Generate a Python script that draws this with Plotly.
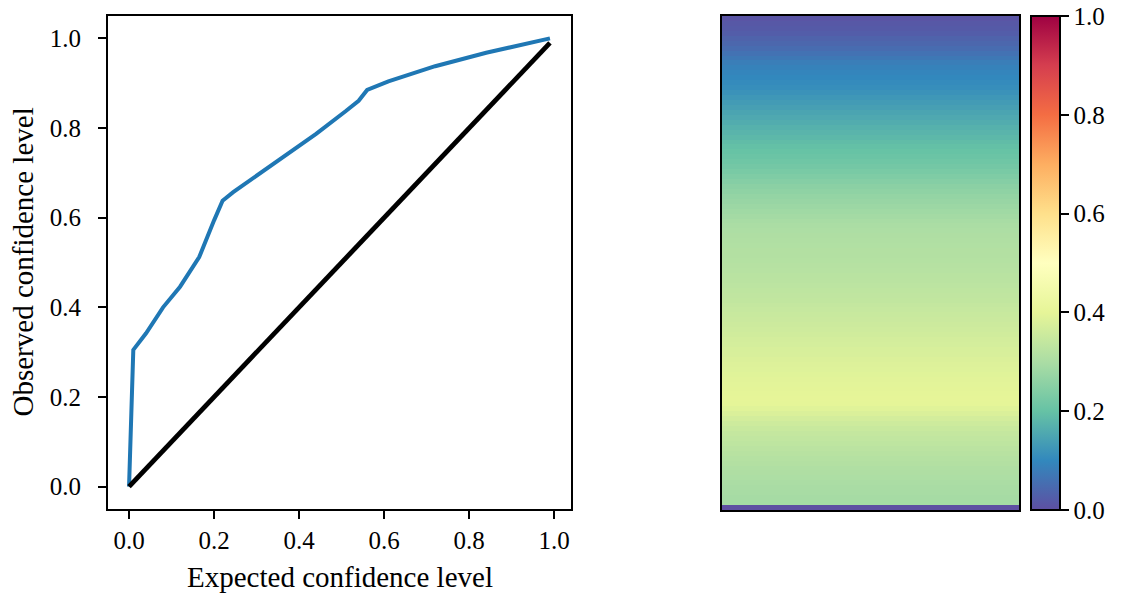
import plotly.graph_objects as go

# ---- data: calibration curve ----
expected_conf = [0.0, 0.01, 0.04, 0.08, 0.12, 0.15, 0.165, 0.20, 0.21, 0.22, 0.245,
                 0.29, 0.37, 0.44, 0.51, 0.54, 0.56, 0.61, 0.72, 0.84, 0.99]
observed_conf = [0.0, 0.305, 0.342, 0.40, 0.446, 0.49, 0.512, 0.594, 0.616, 0.638, 0.657,
                 0.687, 0.738, 0.787, 0.838, 0.861, 0.885, 0.904, 0.938, 0.968, 1.0]
ideal_x = [0.0, 0.99]
ideal_y = [0.0, 0.99]

# ---- data: heatmap column (top row first) ----
strip_values = [
    0.010, 0.015, 0.020, 0.025, 0.035, 0.042, 0.050, 0.062, 0.072, 0.082,
    0.090, 0.095, 0.100, 0.105, 0.110, 0.117, 0.125, 0.132, 0.140, 0.148,
    0.155, 0.162, 0.170, 0.176, 0.182, 0.190, 0.196, 0.202, 0.207, 0.213,
    0.220, 0.228, 0.236, 0.245, 0.253, 0.260, 0.266, 0.272, 0.278, 0.284,
    0.290, 0.295, 0.300, 0.303, 0.306, 0.309, 0.311, 0.313, 0.314, 0.316,
    0.318, 0.320, 0.323, 0.326, 0.329, 0.332, 0.335, 0.338, 0.342, 0.345,
    0.349, 0.352, 0.356, 0.360, 0.363, 0.367, 0.370, 0.374, 0.377, 0.381,
    0.384, 0.387, 0.390, 0.393, 0.395, 0.397, 0.399, 0.400, 0.398, 0.390,
    0.380, 0.368, 0.357, 0.349, 0.342, 0.337, 0.332, 0.327, 0.322, 0.317,
    0.313, 0.309, 0.306, 0.303, 0.300, 0.297, 0.295, 0.293, 0.291, 0.000,
]
tick_vals = [0.0, 0.2, 0.4, 0.6, 0.8, 1.0]

W, H = 1122, 596
FONT = "Liberation Serif"
TICK_SIZE = 25
TITLE_SIZE = 29

def px_x(p):
    return p / W

def px_y(p):
    return 1 - p / H

fig = go.Figure()

fig.add_trace(go.Scatter(x=expected_conf, y=observed_conf, mode="lines",
                         line=dict(color="#1f77b4", width=4),
                         xaxis="x", yaxis="y", showlegend=False))
fig.add_trace(go.Scatter(x=ideal_x, y=ideal_y, mode="lines",
                         line=dict(color="black", width=4.8),
                         xaxis="x", yaxis="y", showlegend=False))

fig.add_trace(go.Heatmap(
    z=[[v] for v in strip_values],
    x=[0], y=list(range(len(strip_values))),
    colorscale="Spectral_r", zmin=0, zmax=1, zsmooth=False,
    xaxis="x2", yaxis="y2",
    colorbar=dict(
        x=px_x(1031), xanchor="left", xpad=0,
        y=px_y(16), yanchor="top", ypad=0,
        len=494, lenmode="pixels",
        thickness=29, thicknessmode="pixels",
        outlinewidth=2, outlinecolor="black",
        ticks="outside", ticklen=8, tickwidth=2, tickcolor="black",
        tickvals=tick_vals, tickformat=".1f",
        tickfont=dict(family=FONT, size=TICK_SIZE, color="black"),
    ),
))

axis_common = dict(showline=True, mirror=True, linewidth=2, linecolor="black",
                   showgrid=False, zeroline=False)

fig.update_layout(
    width=W, height=H,
    margin=dict(l=0, r=0, t=0, b=0),
    paper_bgcolor="white", plot_bgcolor="white",
    xaxis=dict(domain=[px_x(108), px_x(571)], range=[-0.0495, 1.0395],
               tickvals=tick_vals, tickformat=".1f", ticks="outside",
               ticklen=8, tickwidth=2, tickcolor="black", ticklabelstandoff=0,
               tickfont=dict(family=FONT, size=TICK_SIZE, color="black"),
               anchor="y", **axis_common),
    yaxis=dict(domain=[px_y(509), px_y(16)], range=[-0.05, 1.05],
               tickvals=tick_vals, tickformat=".1f", ticks="outside",
               ticklen=8, tickwidth=2, tickcolor="black", ticklabelstandoff=12,
               tickfont=dict(family=FONT, size=TICK_SIZE, color="black"),
               anchor="x", **axis_common),
    xaxis2=dict(domain=[px_x(722), px_x(1019)], range=[-0.5, 0.5],
                showticklabels=False, ticks="", anchor="y2", **axis_common),
    yaxis2=dict(domain=[px_y(510), px_y(16)],
                range=[len(strip_values) - 0.5, -0.5],
                showticklabels=False, ticks="", anchor="x2", **axis_common),
    annotations=[
        dict(text="Expected confidence level", xref="paper", yref="paper",
             x=px_x(339.5), y=px_y(577), xanchor="center", yanchor="middle",
             showarrow=False, font=dict(family=FONT, size=TITLE_SIZE, color="black")),
        dict(text="Observed confidence level", xref="paper", yref="paper",
             x=px_x(22), y=px_y(262.5), xanchor="center", yanchor="middle",
             textangle=-90, showarrow=False,
             font=dict(family=FONT, size=TITLE_SIZE, color="black")),
    ],
)

fig.write_html("out.html")
